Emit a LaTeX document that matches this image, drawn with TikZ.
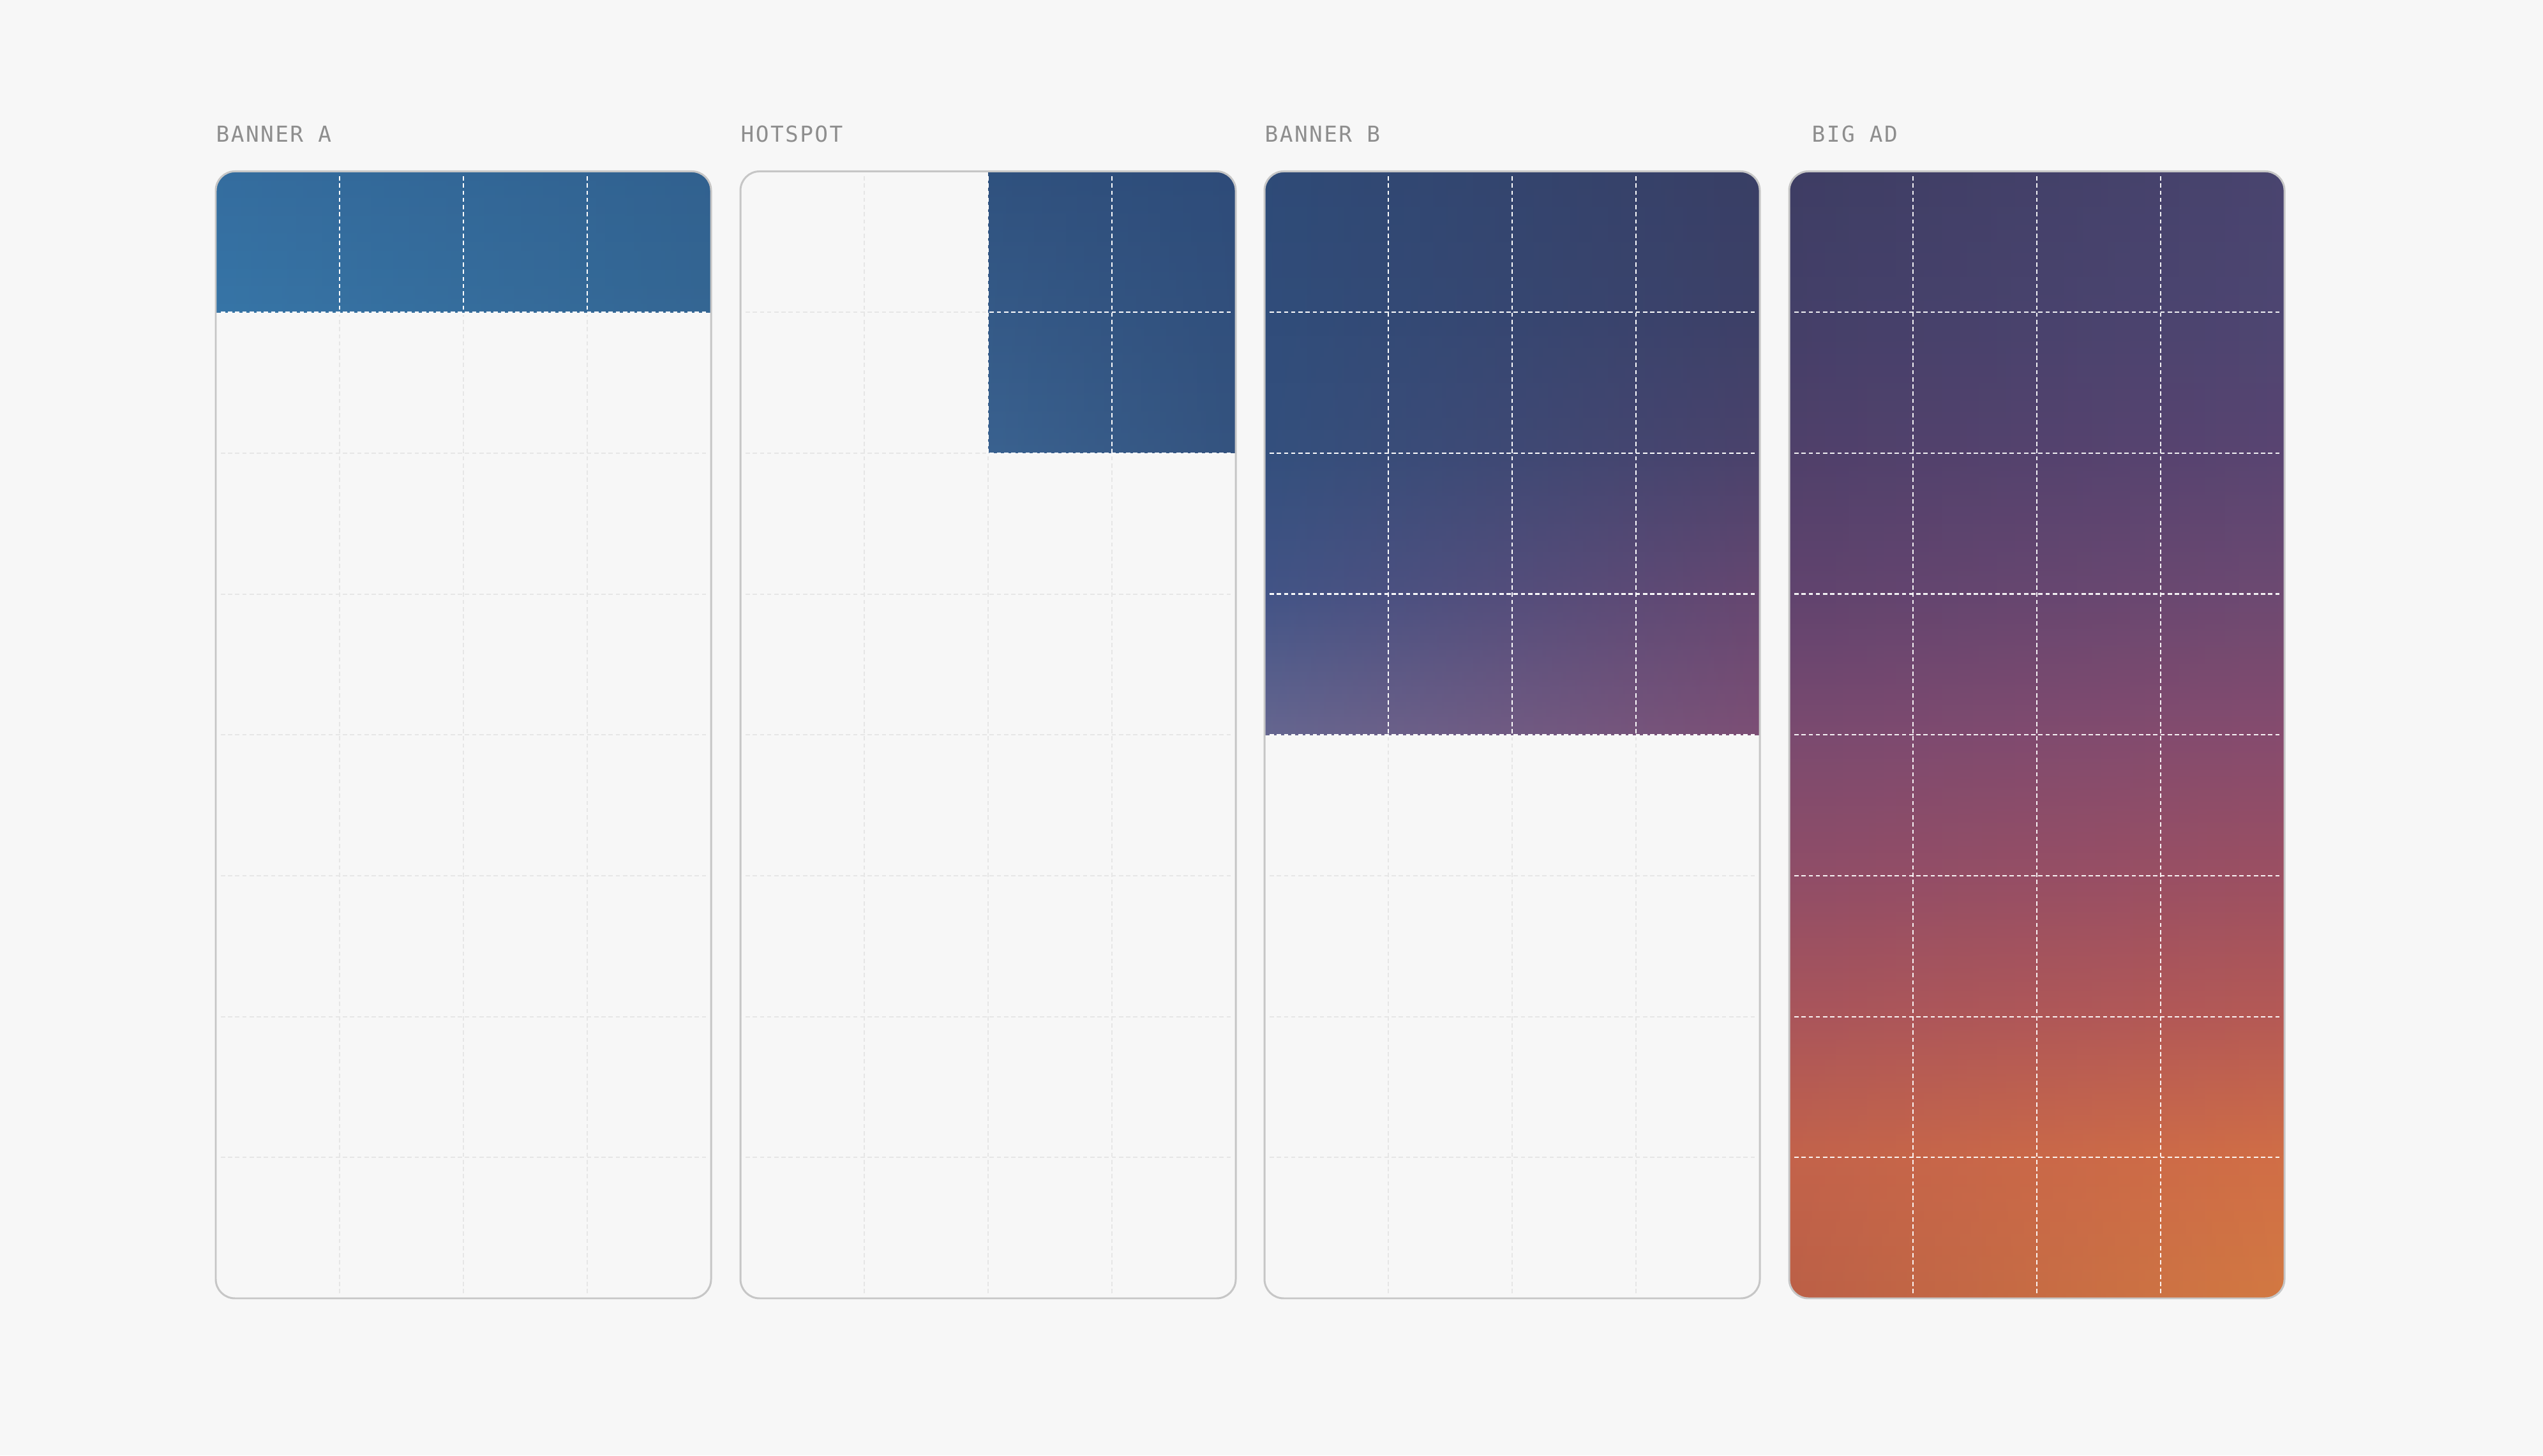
\documentclass[tikz,border=0pt]{standalone}
\usepackage{fontspec}
\newfontfamily\titlefont[LetterSpace=7.0]{DejaVu Sans Mono}
\usetikzlibrary{fadings}

\definecolor{bgcol}{HTML}{F7F7F7}
\definecolor{framecol}{HTML}{C6C6C6}
\definecolor{gridcol}{HTML}{E6E6E6}
\definecolor{titlecol}{HTML}{8E8E8E}
% banner A
\definecolor{aTL}{HTML}{356EA0}
\definecolor{aBL}{HTML}{3776A8}
\definecolor{aTR}{HTML}{31608E}
\definecolor{aBR}{HTML}{346592}
% hotspot
\definecolor{hTL}{HTML}{30527F}
\definecolor{hBL}{HTML}{3A6391}
\definecolor{hTR}{HTML}{2E4B79}
\definecolor{hBR}{HTML}{34527E}
% banner B
\definecolor{cL0}{HTML}{2E4C79}
\definecolor{cL1}{HTML}{2F4E7C}
\definecolor{cL2}{HTML}{32517F}
\definecolor{cL3}{HTML}{405588}
\definecolor{cL4}{HTML}{646892}
\definecolor{cR0}{HTML}{3A3E64}
\definecolor{cR1}{HTML}{3E3F66}
\definecolor{cR2}{HTML}{4C416A}
\definecolor{cR3}{HTML}{68466F}
\definecolor{cR4}{HTML}{7E4D73}
% big ad
\definecolor{dL0}{HTML}{3D3D63}
\definecolor{dL1}{HTML}{433F68}
\definecolor{dL2}{HTML}{4F406A}
\definecolor{dL3}{HTML}{60436E}
\definecolor{dL4}{HTML}{7A4A70}
\definecolor{dL5}{HTML}{8F4D68}
\definecolor{dL6}{HTML}{A9555B}
\definecolor{dL7}{HTML}{C2624B}
\definecolor{dL8}{HTML}{BA5E47}
\definecolor{dR0}{HTML}{4A4570}
\definecolor{dR1}{HTML}{4E4672}
\definecolor{dR2}{HTML}{5A4572}
\definecolor{dR3}{HTML}{6E4A72}
\definecolor{dR4}{HTML}{874C6E}
\definecolor{dR5}{HTML}{9D5062}
\definecolor{dR6}{HTML}{B65A55}
\definecolor{dR7}{HTML}{D26F46}
\definecolor{dR8}{HTML}{D47B42}

\pgfdeclareverticalshading{bannerBleft}{100bp}{color(0bp)=(cL4); color(25bp)=(cL4);
  color(37.5bp)=(cL3); color(50bp)=(cL2); color(62.5bp)=(cL1); color(75bp)=(cL0); color(100bp)=(cL0)}
\pgfdeclareverticalshading{bannerBright}{100bp}{color(0bp)=(cR4); color(25bp)=(cR4);
  color(37.5bp)=(cR3); color(50bp)=(cR2); color(62.5bp)=(cR1); color(75bp)=(cR0); color(100bp)=(cR0)}
\pgfdeclareverticalshading{bigadleft}{100bp}{color(0bp)=(dL8); color(25bp)=(dL8);
  color(31.25bp)=(dL7); color(37.5bp)=(dL6); color(43.75bp)=(dL5); color(50bp)=(dL4);
  color(56.25bp)=(dL3); color(62.5bp)=(dL2); color(68.75bp)=(dL1); color(75bp)=(dL0); color(100bp)=(dL0)}
\pgfdeclareverticalshading{bigadright}{100bp}{color(0bp)=(dR8); color(25bp)=(dR8);
  color(31.25bp)=(dR7); color(37.5bp)=(dR6); color(43.75bp)=(dR5); color(50bp)=(dR4);
  color(56.25bp)=(dR3); color(62.5bp)=(dR2); color(68.75bp)=(dR1); color(75bp)=(dR0); color(100bp)=(dR0)}

\begin{tikzfadingfrompicture}[name=fade right]
  \shade[left color=transparent!100, right color=transparent!0] (0,0) rectangle (2,2);
\end{tikzfadingfrompicture}

% 4 columns x 8 rows inside a 7.76 x 17.655 panel
\newcommand{\panelgrid}[1]{%
  \foreach \i in {1,2,3} \draw[#1] (\i*1.94,0.08) -- (\i*1.94,17.575);
  \foreach \j in {1,...,7} \draw[#1] (0.08,\j*2.2069) -- (7.68,\j*2.2069);
}

\begin{document}
\begin{tikzpicture}[
    frame/.style={draw=framecol, line width=0.85pt, rounded corners=0.3cm},
    gridgrey/.style={draw=gridcol, line width=0.55pt, dash pattern=on 1.9pt off 1.3pt},
    gridwhite/.style={draw=white, line width=0.6pt, dash pattern=on 1.9pt off 1.3pt, opacity=0.92},
    paneltitle/.style={anchor=base west, inner sep=0pt, text=titlecol,
      font=\titlefont\fontsize{9.8}{12}\selectfont}]
  \fill[bgcol] (0,0) rectangle (39.84,22.80);
  \useasboundingbox (0,0) rectangle (39.84,22.80);

  % Banner A
  \begin{scope}[shift={(3.38,2.46)}]
    \node[paneltitle] (titleA) at (0,18.11) {BANNER A};
    \begin{scope}
      \clip[rounded corners=0.3cm] (0,0) rectangle (7.76,17.655);
      \shade[top color=aTL, bottom color=aBL] (0,15.448) rectangle (7.76,17.655);
      \shade[top color=aTR, bottom color=aBR, path fading=fade right] (0,15.448) rectangle (7.76,17.655);
    \end{scope}
    \panelgrid{gridgrey}
    \begin{scope}
      \clip (-0.1,15.418) rectangle (7.86,17.75);
      \panelgrid{gridwhite}
    \end{scope}
    \draw[frame] (0,0) rectangle (7.76,17.655);
  \end{scope}

  % Hotspot
  \begin{scope}[shift={(11.60,2.46)}]
    \node[paneltitle] (titleH) at (0,18.11) {HOTSPOT};
    \begin{scope}
      \clip[rounded corners=0.3cm] (0,0) rectangle (7.76,17.655);
      \shade[top color=hTL, bottom color=hBL] (3.88,13.241) rectangle (7.76,17.655);
      \shade[top color=hTR, bottom color=hBR, path fading=fade right] (3.88,13.241) rectangle (7.76,17.655);
    \end{scope}
    \panelgrid{gridgrey}
    \begin{scope}
      \clip (3.85,13.211) rectangle (7.86,17.75);
      \panelgrid{gridwhite}
    \end{scope}
    \draw[frame] (0,0) rectangle (7.76,17.655);
  \end{scope}

  % Banner B
  \begin{scope}[shift={(19.81,2.46)}]
    \node[paneltitle] (titleB) at (0,18.11) {BANNER B};
    \begin{scope}
      \clip[rounded corners=0.3cm] (0,0) rectangle (7.76,17.655);
      \shade[shading=bannerBleft] (0,8.8274) rectangle (7.76,17.655);
      \shade[shading=bannerBright, path fading=fade right] (0,8.8274) rectangle (7.76,17.655);
    \end{scope}
    \panelgrid{gridgrey}
    \begin{scope}
      \clip (-0.1,8.797) rectangle (7.86,17.75);
      \panelgrid{gridwhite}
    \end{scope}
    \draw[frame] (0,0) rectangle (7.76,17.655);
  \end{scope}

  % Big ad
  \begin{scope}[shift={(28.03,2.46)}]
    \node[paneltitle] (titleD) at (0.35,18.11) {BIG AD};
    \begin{scope}
      \clip[rounded corners=0.3cm] (0,0) rectangle (7.76,17.655);
      \shade[shading=bigadleft] (0,0) rectangle (7.76,17.655);
      \shade[shading=bigadright, path fading=fade right] (0,0) rectangle (7.76,17.655);
    \end{scope}
    \panelgrid{gridwhite}
    \draw[frame] (0,0) rectangle (7.76,17.655);
  \end{scope}
\end{tikzpicture}
\end{document}
